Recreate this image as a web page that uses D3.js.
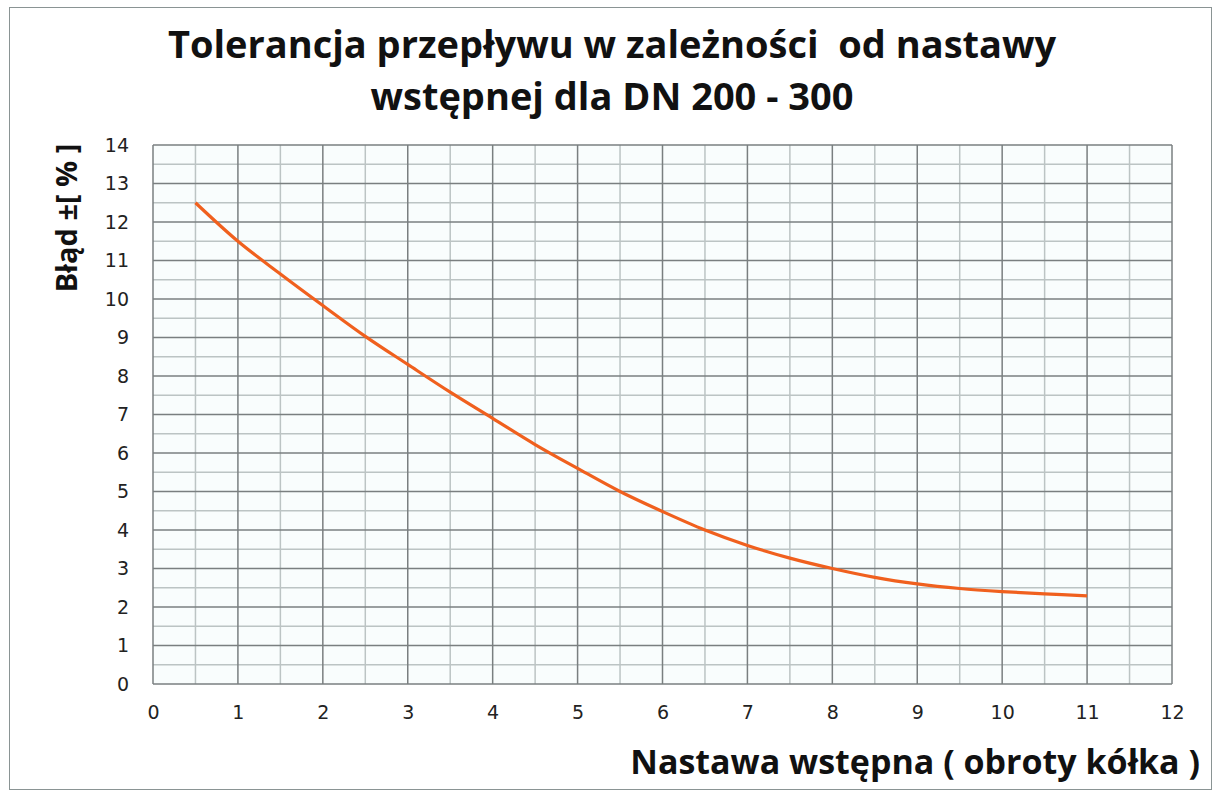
<!DOCTYPE html>
<html>
<head>
<meta charset="utf-8">
<script src="https://cdn.jsdelivr.net/npm/d3@7"></script>
<style>
  body { margin: 0; background: #fff; }
  .tick text { font-family: "DejaVu Sans", sans-serif; font-size: 19px; fill: #222; }
  .title { font-family: "Open Sans", sans-serif; font-weight: 700; fill: #111; white-space: pre; }
</style>
</head>
<body>
<script>
// Figure dimensions
const WIDTH  = 1215;
const HEIGHT = 794;
const plot = { left: 153, right: 1172, top: 145, bottom: 684 };

// Colors
const MAJOR = '#7a7f80';
const MINOR = '#bcc4c4';
const LINE  = '#f0601e';

// Data: Nastawa wstępna vs Błąd ±[%]
const nastawa = [0.5, 1, 1.5, 2, 2.5, 3, 3.5, 4, 4.5, 5, 5.5, 6, 6.5, 7, 7.5, 8, 8.5, 9, 9.5, 10, 10.5, 11];
const blad    = [12.5, 11.5, 10.65, 9.83, 9.03, 8.3, 7.58, 6.9, 6.22, 5.6, 5.0, 4.48, 4.0, 3.6, 3.27, 3.0, 2.77, 2.6, 2.48, 2.4, 2.34, 2.29];

const xTicks = d3.range(0, 13, 1);
const yTicks = d3.range(0, 15, 1);
const titleLines = ["Tolerancja przepływu w zależności  od nastawy", "wstępnej dla DN 200 - 300"];

// Scales
const x = d3.scaleLinear().domain([0, 12]).range([plot.left, plot.right]);
const y = d3.scaleLinear().domain([0, 14]).range([plot.bottom, plot.top]);

const svg = d3.select("body").append("svg")
    .attr("width", WIDTH)
    .attr("height", HEIGHT);

// outer frame
svg.append("rect")
  .attr("x", 9.5).attr("y", 7.5)
  .attr("width", 1202).attr("height", 782)
  .attr("fill", "#fff")
  .attr("stroke", "#8a9494")
  .attr("stroke-width", 1);

// plot background
svg.append("rect")
  .attr("x", plot.left).attr("y", plot.top)
  .attr("width", plot.right - plot.left).attr("height", plot.bottom - plot.top)
  .attr("fill", "#f9fdfd");

// Grid: minor lines (every 0.5)
const grid = svg.append("g");
const minorX = d3.range(0.5, 12, 1);
const minorY = d3.range(0.5, 14, 1);

grid.selectAll(".vminor").data(minorX).join("line")
  .attr("x1", d => x(d)).attr("x2", d => x(d))
  .attr("y1", plot.top).attr("y2", plot.bottom)
  .attr("stroke", MINOR).attr("stroke-width", 1.5);
grid.selectAll(".hminor").data(minorY).join("line")
  .attr("x1", plot.left).attr("x2", plot.right)
  .attr("y1", d => y(d)).attr("y2", d => y(d))
  .attr("stroke", MINOR).attr("stroke-width", 1.5);

// Grid: major lines
grid.selectAll(".vmajor").data(xTicks).join("line")
  .attr("x1", d => x(d)).attr("x2", d => x(d))
  .attr("y1", plot.top).attr("y2", plot.bottom)
  .attr("stroke", MAJOR).attr("stroke-width", 1.5);
grid.selectAll(".hmajor").data(yTicks).join("line")
  .attr("x1", plot.left).attr("x2", plot.right)
  .attr("y1", d => y(d)).attr("y2", d => y(d))
  .attr("stroke", MAJOR).attr("stroke-width", 1.5);

// Axes (labels only)
const xAxis = g => {
  g.attr("transform", `translate(0, ${plot.bottom})`)
    .call(d3.axisBottom(x).tickValues(xTicks).tickSize(0).tickPadding(22))
    .call(g => g.select(".domain").remove());
}
const yAxis = g => {
  g.attr("transform", `translate(${plot.left}, 0)`)
    .call(d3.axisLeft(y).tickValues(yTicks).tickSize(0).tickPadding(24))
    .call(g => g.select(".domain").remove());
}
svg.append("g").call(xAxis);
svg.append("g").call(yAxis);

// Curve
const line = d3.line()
  .x((d, i) => x(nastawa[i]))
  .y(d => y(d))
  .curve(d3.curveCatmullRom);

svg.append("path")
  .datum(blad)
  .attr("d", line)
  .attr("fill", "none")
  .attr("stroke", LINE)
  .attr("stroke-width", 3.2);

// Title
svg.selectAll(".titleline").data(titleLines).join("text")
  .attr("class", "title")
  .attr("x", 612)
  .attr("y", (d, i) => 58 + i * 52)
  .attr("text-anchor", "middle")
  .attr("font-size", 38)
  .text(d => d);

// Axis titles
svg.append("text")
  .attr("class", "title")
  .attr("transform", `translate(77, 218) rotate(-90)`)
  .attr("text-anchor", "middle")
  .attr("font-size", 29)
  .text("Błąd ±[ % ]");

svg.append("text")
  .attr("class", "title")
  .attr("x", 1200)
  .attr("y", 774)
  .attr("text-anchor", "end")
  .attr("font-size", 34)
  .text("Nastawa wstępna ( obroty kółka )");
</script>
</body>
</html>
